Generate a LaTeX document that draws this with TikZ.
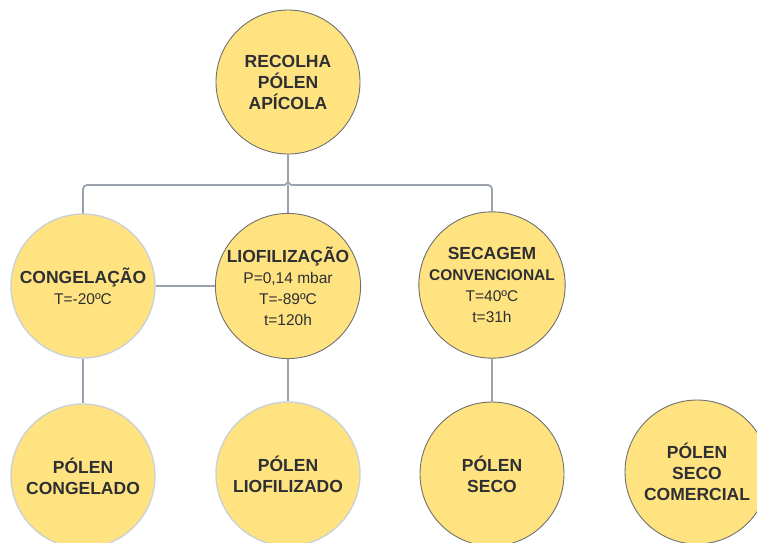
\documentclass[tikz,border=0pt]{standalone}
\usepackage{fontspec}
\setmainfont{Liberation Sans}
\definecolor{fillY}{HTML}{FFE380}
\definecolor{edgeDark}{HTML}{707070}
\definecolor{edgeLight}{HTML}{C9D0DA}
\definecolor{conn}{HTML}{9AA2AD}
\definecolor{txt}{HTML}{2E2F33}
\tikzset{
  bubble/.style={circle, fill=fillY, draw=edgeDark, line width=0.9pt, minimum size=144pt, inner sep=0pt,
    align=center, text=txt, font=\fontsize{17.5}{21}\selectfont\bfseries},
  bubblelight/.style={bubble, draw=edgeLight, line width=1.3pt},
  link/.style={draw=conn, line width=1.8pt, rounded corners=4pt},
}
\newcommand{\reg}[1]{{\fontsize{15.5}{20}\selectfont\mdseries #1}}
\begin{document}
\begin{tikzpicture}[x=1pt,y=-1pt]
\useasboundingbox (0,0) rectangle (757,542);
\clip (0,0) rectangle (757,542);
\fill[white] (0,0) rectangle (757,542);
% nodes
\node[bubble] (top) at (288,82) {RECOLHA\\PÓLEN\\APÍCOLA};
\node[bubblelight] (cong) at (83,286) {CONGELAÇÃO\\\reg{T=-20ºC}};
\node[bubble] (lio) at (288,286) {LIOFILIZAÇÃO\\\reg{P=0,14 mbar}\\\reg{T=-89ºC}\\\reg{t=120h}};
\node[bubble] (sec) at (492,285) {SECAGEM\\{\fontsize{15.5}{20}\selectfont CONVENCIONAL}\\\reg{T=40ºC}\\\reg{t=31h}};
\node[bubblelight] (pcong) at (83,476) {PÓLEN\\CONGELADO};
\node[bubblelight] (plio) at (288,474) {PÓLEN\\LIOFILIZADO};
\node[bubble] (psec) at (492,474) {PÓLEN\\SECO};
\node[bubble] (pcom) at (697,472) {PÓLEN\\SECO\\COMERCIAL};
% connectors
\coordinate (junc) at (288,185);
\draw[link] (top.south) -- (junc) -| (cong.north);
\draw[link] (top.south) -- (junc) -| (sec.north);
\draw[link] (junc) -- (lio.north);
\draw[link] (cong.east) -- (cong.east -| lio.west);
\draw[link] (cong.south) -- (pcong.north);
\draw[link] (lio.south) -- (plio.north);
\draw[link] (sec.south) -- (psec.north);
\end{tikzpicture}
\end{document}
